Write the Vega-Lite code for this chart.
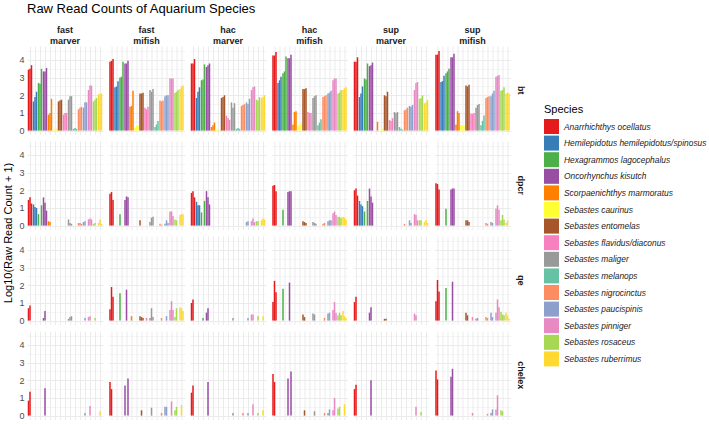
{
"$schema":"https://vega.github.io/schema/vega-lite/v6.json",
"padding":{"left":2,"top":3,"right":0,"bottom":0},
"title":{"text":"Raw Read Counts of Aquarium Species","anchor":"start","frame":"group","fontSize":13,"fontWeight":"normal","font":"Liberation Sans","color":"#000000","offset":10},
"datasets":{"species":[
{"s":1,"name":"Anarrhichthys ocellatus"},{"s":2,"name":"Hemilepidotus hemilepidotus/spinosus"},{"s":3,"name":"Hexagrammos lagocephalus"},{"s":4,"name":"Oncorhynchus kisutch"},{"s":5,"name":"Scorpaenichthys marmoratus"},{"s":6,"name":"Sebastes caurinus"},{"s":7,"name":"Sebastes entomelas"},{"s":8,"name":"Sebastes flavidus/diaconus"},{"s":9,"name":"Sebastes maliger"},{"s":10,"name":"Sebastes melanops"},{"s":11,"name":"Sebastes nigrocinctus"},{"s":12,"name":"Sebastes paucispinis"},{"s":13,"name":"Sebastes pinniger"},{"s":14,"name":"Sebastes rosaceus"},{"s":15,"name":"Sebastes ruberrimus"}]},
"data":{"values":[
{"e":"bt","c":"fast marver","s":1,"r":1,"v":3.45},{"e":"bt","c":"fast marver","s":1,"r":2,"v":3.5},{"e":"bt","c":"fast marver","s":1,"r":3,"v":3.7},
{"e":"bt","c":"fast marver","s":2,"r":1,"v":1.65},{"e":"bt","c":"fast marver","s":2,"r":2,"v":1.9},{"e":"bt","c":"fast marver","s":2,"r":3,"v":2.2},
{"e":"bt","c":"fast marver","s":3,"r":1,"v":2.7},{"e":"bt","c":"fast marver","s":3,"r":2,"v":2.65},{"e":"bt","c":"fast marver","s":3,"r":3,"v":3.5},
{"e":"bt","c":"fast marver","s":4,"r":1,"v":3.35},{"e":"bt","c":"fast marver","s":4,"r":2,"v":3.35},{"e":"bt","c":"fast marver","s":4,"r":3,"v":3.55},
{"e":"bt","c":"fast marver","s":5,"r":1,"v":0.9},{"e":"bt","c":"fast marver","s":5,"r":2,"v":1.0},{"e":"bt","c":"fast marver","s":5,"r":3,"v":1.8},
{"e":"bt","c":"fast marver","s":6,"r":1,"v":0.05},{"e":"bt","c":"fast marver","s":6,"r":2,"v":0.1},{"e":"bt","c":"fast marver","s":6,"r":3,"v":0.1},
{"e":"bt","c":"fast marver","s":7,"r":1,"v":1.65},{"e":"bt","c":"fast marver","s":7,"r":2,"v":1.7},{"e":"bt","c":"fast marver","s":7,"r":3,"v":1.75},
{"e":"bt","c":"fast marver","s":8,"r":1,"v":0.9},{"e":"bt","c":"fast marver","s":8,"r":2,"v":1.0},{"e":"bt","c":"fast marver","s":8,"r":3,"v":1.0},
{"e":"bt","c":"fast marver","s":9,"r":1,"v":1.75},{"e":"bt","c":"fast marver","s":9,"r":2,"v":1.95},{"e":"bt","c":"fast marver","s":9,"r":3,"v":1.95},
{"e":"bt","c":"fast marver","s":10,"r":1,"v":0.1},{"e":"bt","c":"fast marver","s":10,"r":2,"v":0.15},{"e":"bt","c":"fast marver","s":10,"r":3,"v":0.1},
{"e":"bt","c":"fast marver","s":11,"r":1,"v":1.2},{"e":"bt","c":"fast marver","s":11,"r":2,"v":1.3},{"e":"bt","c":"fast marver","s":11,"r":3,"v":1.35},
{"e":"bt","c":"fast marver","s":12,"r":1,"v":1.3},{"e":"bt","c":"fast marver","s":12,"r":2,"v":1.6},{"e":"bt","c":"fast marver","s":12,"r":3,"v":1.6},
{"e":"bt","c":"fast marver","s":13,"r":1,"v":2.3},{"e":"bt","c":"fast marver","s":13,"r":2,"v":2.55},{"e":"bt","c":"fast marver","s":13,"r":3,"v":2.55},
{"e":"bt","c":"fast marver","s":14,"r":1,"v":1.65},{"e":"bt","c":"fast marver","s":14,"r":2,"v":1.75},{"e":"bt","c":"fast marver","s":14,"r":3,"v":1.85},
{"e":"bt","c":"fast marver","s":15,"r":1,"v":2.05},{"e":"bt","c":"fast marver","s":15,"r":2,"v":2.1},{"e":"bt","c":"fast marver","s":15,"r":3,"v":2.1},
{"e":"bt","c":"fast mifish","s":1,"r":1,"v":3.9},{"e":"bt","c":"fast mifish","s":1,"r":2,"v":3.95},{"e":"bt","c":"fast mifish","s":1,"r":3,"v":4.05},
{"e":"bt","c":"fast mifish","s":2,"r":1,"v":2.45},{"e":"bt","c":"fast mifish","s":2,"r":2,"v":2.5},{"e":"bt","c":"fast mifish","s":2,"r":3,"v":2.8},
{"e":"bt","c":"fast mifish","s":3,"r":1,"v":3.0},{"e":"bt","c":"fast mifish","s":3,"r":2,"v":3.05},{"e":"bt","c":"fast mifish","s":3,"r":3,"v":3.9},
{"e":"bt","c":"fast mifish","s":4,"r":1,"v":3.8},{"e":"bt","c":"fast mifish","s":4,"r":2,"v":3.8},{"e":"bt","c":"fast mifish","s":4,"r":3,"v":3.95},
{"e":"bt","c":"fast mifish","s":5,"r":1,"v":1.35},{"e":"bt","c":"fast mifish","s":5,"r":2,"v":1.4},{"e":"bt","c":"fast mifish","s":5,"r":3,"v":2.25},
{"e":"bt","c":"fast mifish","s":6,"r":1,"v":0.15},{"e":"bt","c":"fast mifish","s":6,"r":2,"v":0.25},{"e":"bt","c":"fast mifish","s":6,"r":3,"v":0.3},
{"e":"bt","c":"fast mifish","s":7,"r":1,"v":2.1},{"e":"bt","c":"fast mifish","s":7,"r":2,"v":2.1},{"e":"bt","c":"fast mifish","s":7,"r":3,"v":2.15},
{"e":"bt","c":"fast mifish","s":8,"r":1,"v":1.3},{"e":"bt","c":"fast mifish","s":8,"r":2,"v":1.2},{"e":"bt","c":"fast mifish","s":8,"r":3,"v":1.35},
{"e":"bt","c":"fast mifish","s":9,"r":1,"v":2.3},{"e":"bt","c":"fast mifish","s":9,"r":2,"v":2.2},{"e":"bt","c":"fast mifish","s":9,"r":3,"v":2.35},
{"e":"bt","c":"fast mifish","s":10,"r":1,"v":0.2},{"e":"bt","c":"fast mifish","s":10,"r":2,"v":0.35},{"e":"bt","c":"fast mifish","s":10,"r":3,"v":0.55},
{"e":"bt","c":"fast mifish","s":11,"r":1,"v":1.7},{"e":"bt","c":"fast mifish","s":11,"r":2,"v":1.65},{"e":"bt","c":"fast mifish","s":11,"r":3,"v":1.7},
{"e":"bt","c":"fast mifish","s":12,"r":1,"v":1.95},{"e":"bt","c":"fast mifish","s":12,"r":2,"v":2.0},{"e":"bt","c":"fast mifish","s":12,"r":3,"v":2.0},
{"e":"bt","c":"fast mifish","s":13,"r":1,"v":2.95},{"e":"bt","c":"fast mifish","s":13,"r":2,"v":2.95},{"e":"bt","c":"fast mifish","s":13,"r":3,"v":2.95},
{"e":"bt","c":"fast mifish","s":14,"r":1,"v":2.15},{"e":"bt","c":"fast mifish","s":14,"r":2,"v":2.2},{"e":"bt","c":"fast mifish","s":14,"r":3,"v":2.3},
{"e":"bt","c":"fast mifish","s":15,"r":1,"v":2.35},{"e":"bt","c":"fast mifish","s":15,"r":2,"v":2.5},{"e":"bt","c":"fast mifish","s":15,"r":3,"v":2.55},
{"e":"bt","c":"hac marver","s":1,"r":1,"v":3.8},{"e":"bt","c":"hac marver","s":1,"r":2,"v":3.8},{"e":"bt","c":"hac marver","s":1,"r":3,"v":4.05},
{"e":"bt","c":"hac marver","s":2,"r":1,"v":1.85},{"e":"bt","c":"hac marver","s":2,"r":2,"v":2.2},{"e":"bt","c":"hac marver","s":2,"r":3,"v":2.45},
{"e":"bt","c":"hac marver","s":3,"r":1,"v":2.85},{"e":"bt","c":"hac marver","s":3,"r":2,"v":2.9},{"e":"bt","c":"hac marver","s":3,"r":3,"v":3.75},
{"e":"bt","c":"hac marver","s":4,"r":1,"v":3.6},{"e":"bt","c":"hac marver","s":4,"r":2,"v":3.7},{"e":"bt","c":"hac marver","s":4,"r":3,"v":3.8},
{"e":"bt","c":"hac marver","s":5,"r":1,"v":0.2},{"e":"bt","c":"hac marver","s":5,"r":2,"v":0.3},{"e":"bt","c":"hac marver","s":5,"r":3,"v":0.45},
{"e":"bt","c":"hac marver","s":6,"r":1,"v":0.05},{"e":"bt","c":"hac marver","s":6,"r":2,"v":0.1},{"e":"bt","c":"hac marver","s":6,"r":3,"v":0.05},
{"e":"bt","c":"hac marver","s":7,"r":1,"v":1.85},{"e":"bt","c":"hac marver","s":7,"r":2,"v":1.9},{"e":"bt","c":"hac marver","s":7,"r":3,"v":2.0},
{"e":"bt","c":"hac marver","s":8,"r":1,"v":0.85},{"e":"bt","c":"hac marver","s":8,"r":2,"v":0.7},{"e":"bt","c":"hac marver","s":8,"r":3,"v":0.6},
{"e":"bt","c":"hac marver","s":9,"r":1,"v":1.6},{"e":"bt","c":"hac marver","s":9,"r":2,"v":1.3},{"e":"bt","c":"hac marver","s":9,"r":3,"v":1.55},
{"e":"bt","c":"hac marver","s":10,"r":1,"v":0.1},{"e":"bt","c":"hac marver","s":10,"r":2,"v":0.15},{"e":"bt","c":"hac marver","s":10,"r":3,"v":0.1},
{"e":"bt","c":"hac marver","s":11,"r":1,"v":1.4},{"e":"bt","c":"hac marver","s":11,"r":2,"v":1.45},{"e":"bt","c":"hac marver","s":11,"r":3,"v":1.5},
{"e":"bt","c":"hac marver","s":12,"r":1,"v":1.6},{"e":"bt","c":"hac marver","s":12,"r":2,"v":1.5},{"e":"bt","c":"hac marver","s":12,"r":3,"v":1.8},
{"e":"bt","c":"hac marver","s":13,"r":1,"v":2.3},{"e":"bt","c":"hac marver","s":13,"r":2,"v":2.45},{"e":"bt","c":"hac marver","s":13,"r":3,"v":2.5},
{"e":"bt","c":"hac marver","s":14,"r":1,"v":1.75},{"e":"bt","c":"hac marver","s":14,"r":2,"v":1.7},{"e":"bt","c":"hac marver","s":14,"r":3,"v":1.9},
{"e":"bt","c":"hac marver","s":15,"r":1,"v":1.85},{"e":"bt","c":"hac marver","s":15,"r":2,"v":1.9},{"e":"bt","c":"hac marver","s":15,"r":3,"v":2.0},
{"e":"bt","c":"hac mifish","s":1,"r":1,"v":4.25},{"e":"bt","c":"hac mifish","s":1,"r":2,"v":4.25},{"e":"bt","c":"hac mifish","s":1,"r":3,"v":4.45},
{"e":"bt","c":"hac mifish","s":2,"r":1,"v":2.7},{"e":"bt","c":"hac mifish","s":2,"r":2,"v":2.85},{"e":"bt","c":"hac mifish","s":2,"r":3,"v":3.05},
{"e":"bt","c":"hac mifish","s":3,"r":1,"v":3.25},{"e":"bt","c":"hac mifish","s":3,"r":2,"v":3.35},{"e":"bt","c":"hac mifish","s":3,"r":3,"v":4.2},
{"e":"bt","c":"hac mifish","s":4,"r":1,"v":4.1},{"e":"bt","c":"hac mifish","s":4,"r":2,"v":4.1},{"e":"bt","c":"hac mifish","s":4,"r":3,"v":4.3},
{"e":"bt","c":"hac mifish","s":5,"r":1,"v":0.35},{"e":"bt","c":"hac mifish","s":5,"r":2,"v":1.05},{"e":"bt","c":"hac mifish","s":5,"r":3,"v":1.1},
{"e":"bt","c":"hac mifish","s":6,"r":1,"v":0.25},{"e":"bt","c":"hac mifish","s":6,"r":2,"v":0.35},{"e":"bt","c":"hac mifish","s":6,"r":3,"v":0.4},
{"e":"bt","c":"hac mifish","s":7,"r":1,"v":2.35},{"e":"bt","c":"hac mifish","s":7,"r":2,"v":2.35},{"e":"bt","c":"hac mifish","s":7,"r":3,"v":2.4},
{"e":"bt","c":"hac mifish","s":8,"r":1,"v":1.05},{"e":"bt","c":"hac mifish","s":8,"r":2,"v":1.0},{"e":"bt","c":"hac mifish","s":8,"r":3,"v":1.0},
{"e":"bt","c":"hac mifish","s":9,"r":1,"v":1.85},{"e":"bt","c":"hac mifish","s":9,"r":2,"v":1.95},{"e":"bt","c":"hac mifish","s":9,"r":3,"v":2.0},
{"e":"bt","c":"hac mifish","s":10,"r":1,"v":0.3},{"e":"bt","c":"hac mifish","s":10,"r":2,"v":0.45},{"e":"bt","c":"hac mifish","s":10,"r":3,"v":0.65},
{"e":"bt","c":"hac mifish","s":11,"r":1,"v":1.9},{"e":"bt","c":"hac mifish","s":11,"r":2,"v":1.95},{"e":"bt","c":"hac mifish","s":11,"r":3,"v":2.0},
{"e":"bt","c":"hac mifish","s":12,"r":1,"v":2.1},{"e":"bt","c":"hac mifish","s":12,"r":2,"v":2.15},{"e":"bt","c":"hac mifish","s":12,"r":3,"v":2.25},
{"e":"bt","c":"hac mifish","s":13,"r":1,"v":2.85},{"e":"bt","c":"hac mifish","s":13,"r":2,"v":2.95},{"e":"bt","c":"hac mifish","s":13,"r":3,"v":2.95},
{"e":"bt","c":"hac mifish","s":14,"r":1,"v":2.1},{"e":"bt","c":"hac mifish","s":14,"r":2,"v":2.15},{"e":"bt","c":"hac mifish","s":14,"r":3,"v":2.3},
{"e":"bt","c":"hac mifish","s":15,"r":1,"v":2.3},{"e":"bt","c":"hac mifish","s":15,"r":2,"v":2.4},{"e":"bt","c":"hac mifish","s":15,"r":3,"v":2.45},
{"e":"bt","c":"sup marver","s":1,"r":1,"v":3.9},{"e":"bt","c":"sup marver","s":1,"r":2,"v":3.9},{"e":"bt","c":"sup marver","s":1,"r":3,"v":4.15},
{"e":"bt","c":"sup marver","s":2,"r":1,"v":1.9},{"e":"bt","c":"sup marver","s":2,"r":2,"v":2.1},{"e":"bt","c":"sup marver","s":2,"r":3,"v":2.5},
{"e":"bt","c":"sup marver","s":3,"r":1,"v":2.95},{"e":"bt","c":"sup marver","s":3,"r":2,"v":2.9},{"e":"bt","c":"sup marver","s":3,"r":3,"v":3.8},
{"e":"bt","c":"sup marver","s":4,"r":1,"v":3.65},{"e":"bt","c":"sup marver","s":4,"r":2,"v":3.7},{"e":"bt","c":"sup marver","s":4,"r":3,"v":3.85},
{"e":"bt","c":"sup marver","s":5,"r":3,"v":0.5},
{"e":"bt","c":"sup marver","s":6,"r":2,"v":0.05},{"e":"bt","c":"sup marver","s":6,"r":3,"v":0.1},
{"e":"bt","c":"sup marver","s":7,"r":1,"v":2.0},{"e":"bt","c":"sup marver","s":7,"r":2,"v":1.95},{"e":"bt","c":"sup marver","s":7,"r":3,"v":2.2},
{"e":"bt","c":"sup marver","s":8,"r":1,"v":0.6},{"e":"bt","c":"sup marver","s":8,"r":2,"v":0.55},{"e":"bt","c":"sup marver","s":8,"r":3,"v":0.7},
{"e":"bt","c":"sup marver","s":9,"r":1,"v":1.05},{"e":"bt","c":"sup marver","s":9,"r":2,"v":1.0},{"e":"bt","c":"sup marver","s":9,"r":3,"v":1.05},
{"e":"bt","c":"sup marver","s":10,"r":1,"v":0.2},{"e":"bt","c":"sup marver","s":10,"r":2,"v":0.1},{"e":"bt","c":"sup marver","s":10,"r":3,"v":0.05},
{"e":"bt","c":"sup marver","s":11,"r":1,"v":1.15},{"e":"bt","c":"sup marver","s":11,"r":2,"v":1.2},{"e":"bt","c":"sup marver","s":11,"r":3,"v":1.3},
{"e":"bt","c":"sup marver","s":12,"r":1,"v":1.4},{"e":"bt","c":"sup marver","s":12,"r":2,"v":1.35},{"e":"bt","c":"sup marver","s":12,"r":3,"v":1.45},
{"e":"bt","c":"sup marver","s":13,"r":1,"v":2.3},{"e":"bt","c":"sup marver","s":13,"r":2,"v":2.7},{"e":"bt","c":"sup marver","s":13,"r":3,"v":2.75},
{"e":"bt","c":"sup marver","s":14,"r":1,"v":1.8},{"e":"bt","c":"sup marver","s":14,"r":2,"v":1.85},{"e":"bt","c":"sup marver","s":14,"r":3,"v":2.0},
{"e":"bt","c":"sup marver","s":15,"r":1,"v":1.55},{"e":"bt","c":"sup marver","s":15,"r":2,"v":1.6},{"e":"bt","c":"sup marver","s":15,"r":3,"v":1.75},
{"e":"bt","c":"sup mifish","s":1,"r":1,"v":4.3},{"e":"bt","c":"sup mifish","s":1,"r":2,"v":4.3},{"e":"bt","c":"sup mifish","s":1,"r":3,"v":4.5},
{"e":"bt","c":"sup mifish","s":2,"r":1,"v":2.75},{"e":"bt","c":"sup mifish","s":2,"r":2,"v":2.8},{"e":"bt","c":"sup mifish","s":2,"r":3,"v":3.1},
{"e":"bt","c":"sup mifish","s":3,"r":1,"v":3.25},{"e":"bt","c":"sup mifish","s":3,"r":2,"v":3.35},{"e":"bt","c":"sup mifish","s":3,"r":3,"v":3.5},
{"e":"bt","c":"sup mifish","s":4,"r":1,"v":4.15},{"e":"bt","c":"sup mifish","s":4,"r":2,"v":4.15},{"e":"bt","c":"sup mifish","s":4,"r":3,"v":4.35},
{"e":"bt","c":"sup mifish","s":5,"r":1,"v":0.35},{"e":"bt","c":"sup mifish","s":5,"r":2,"v":1.1},{"e":"bt","c":"sup mifish","s":5,"r":3,"v":1.0},
{"e":"bt","c":"sup mifish","s":6,"r":1,"v":0.3},{"e":"bt","c":"sup mifish","s":6,"r":2,"v":0.3},{"e":"bt","c":"sup mifish","s":6,"r":3,"v":0.3},
{"e":"bt","c":"sup mifish","s":7,"r":1,"v":2.55},{"e":"bt","c":"sup mifish","s":7,"r":2,"v":2.5},{"e":"bt","c":"sup mifish","s":7,"r":3,"v":2.6},
{"e":"bt","c":"sup mifish","s":8,"r":1,"v":0.95},{"e":"bt","c":"sup mifish","s":8,"r":2,"v":0.95},{"e":"bt","c":"sup mifish","s":8,"r":3,"v":1.0},
{"e":"bt","c":"sup mifish","s":9,"r":1,"v":1.3},{"e":"bt","c":"sup mifish","s":9,"r":2,"v":1.45},{"e":"bt","c":"sup mifish","s":9,"r":3,"v":1.5},
{"e":"bt","c":"sup mifish","s":10,"r":1,"v":0.3},{"e":"bt","c":"sup mifish","s":10,"r":2,"v":0.55},{"e":"bt","c":"sup mifish","s":10,"r":3,"v":0.85},
{"e":"bt","c":"sup mifish","s":11,"r":1,"v":1.85},{"e":"bt","c":"sup mifish","s":11,"r":2,"v":1.9},{"e":"bt","c":"sup mifish","s":11,"r":3,"v":1.95},
{"e":"bt","c":"sup mifish","s":12,"r":1,"v":1.95},{"e":"bt","c":"sup mifish","s":12,"r":2,"v":2.1},{"e":"bt","c":"sup mifish","s":12,"r":3,"v":2.25},
{"e":"bt","c":"sup mifish","s":13,"r":1,"v":3.05},{"e":"bt","c":"sup mifish","s":13,"r":2,"v":3.1},{"e":"bt","c":"sup mifish","s":13,"r":3,"v":3.15},
{"e":"bt","c":"sup mifish","s":14,"r":1,"v":2.25},{"e":"bt","c":"sup mifish","s":14,"r":2,"v":2.3},{"e":"bt","c":"sup mifish","s":14,"r":3,"v":2.45},
{"e":"bt","c":"sup mifish","s":15,"r":1,"v":2.1},{"e":"bt","c":"sup mifish","s":15,"r":2,"v":2.15},{"e":"bt","c":"sup mifish","s":15,"r":3,"v":2.1},
{"e":"dpcr","c":"fast marver","s":1,"r":1,"v":1.45},{"e":"dpcr","c":"fast marver","s":1,"r":2,"v":1.6},{"e":"dpcr","c":"fast marver","s":1,"r":3,"v":1.25},
{"e":"dpcr","c":"fast marver","s":2,"r":1,"v":1.2},{"e":"dpcr","c":"fast marver","s":2,"r":2,"v":1.05},{"e":"dpcr","c":"fast marver","s":2,"r":3,"v":1.0},
{"e":"dpcr","c":"fast marver","s":3,"r":1,"v":0.65},{"e":"dpcr","c":"fast marver","s":3,"r":3,"v":1.15},
{"e":"dpcr","c":"fast marver","s":4,"r":1,"v":1.6},{"e":"dpcr","c":"fast marver","s":4,"r":2,"v":1.3},{"e":"dpcr","c":"fast marver","s":4,"r":3,"v":0.85},
{"e":"dpcr","c":"fast marver","s":5,"r":1,"v":0.25},{"e":"dpcr","c":"fast marver","s":5,"r":2,"v":0.2},
{"e":"dpcr","c":"fast marver","s":9,"r":1,"v":0.35},{"e":"dpcr","c":"fast marver","s":9,"r":2,"v":0.15},{"e":"dpcr","c":"fast marver","s":9,"r":3,"v":0.1},
{"e":"dpcr","c":"fast marver","s":11,"r":1,"v":0.15},{"e":"dpcr","c":"fast marver","s":11,"r":2,"v":0.15},{"e":"dpcr","c":"fast marver","s":11,"r":3,"v":0.1},
{"e":"dpcr","c":"fast marver","s":12,"r":1,"v":0.2},{"e":"dpcr","c":"fast marver","s":12,"r":2,"v":0.25},
{"e":"dpcr","c":"fast marver","s":13,"r":1,"v":0.35},{"e":"dpcr","c":"fast marver","s":13,"r":2,"v":0.4},{"e":"dpcr","c":"fast marver","s":13,"r":3,"v":0.35},
{"e":"dpcr","c":"fast marver","s":14,"r":1,"v":0.1},{"e":"dpcr","c":"fast marver","s":14,"r":2,"v":0.15},
{"e":"dpcr","c":"fast marver","s":15,"r":1,"v":0.15},{"e":"dpcr","c":"fast marver","s":15,"r":2,"v":0.35},{"e":"dpcr","c":"fast marver","s":15,"r":3,"v":0.1},
{"e":"dpcr","c":"fast mifish","s":1,"r":1,"v":1.8},{"e":"dpcr","c":"fast mifish","s":1,"r":2,"v":1.9},{"e":"dpcr","c":"fast mifish","s":1,"r":3,"v":1.45},
{"e":"dpcr","c":"fast mifish","s":3,"r":1,"v":0.65},
{"e":"dpcr","c":"fast mifish","s":4,"r":1,"v":1.45},{"e":"dpcr","c":"fast mifish","s":4,"r":2,"v":1.65},{"e":"dpcr","c":"fast mifish","s":4,"r":3,"v":1.6},
{"e":"dpcr","c":"fast mifish","s":7,"r":1,"v":0.3},
{"e":"dpcr","c":"fast mifish","s":9,"r":1,"v":0.2},{"e":"dpcr","c":"fast mifish","s":9,"r":2,"v":0.45},{"e":"dpcr","c":"fast mifish","s":9,"r":3,"v":0.5},
{"e":"dpcr","c":"fast mifish","s":11,"r":1,"v":0.1},{"e":"dpcr","c":"fast mifish","s":11,"r":2,"v":0.05},
{"e":"dpcr","c":"fast mifish","s":12,"r":1,"v":0.1},{"e":"dpcr","c":"fast mifish","s":12,"r":2,"v":0.3},{"e":"dpcr","c":"fast mifish","s":12,"r":3,"v":0.15},
{"e":"dpcr","c":"fast mifish","s":13,"r":1,"v":0.8},{"e":"dpcr","c":"fast mifish","s":13,"r":2,"v":0.8},{"e":"dpcr","c":"fast mifish","s":13,"r":3,"v":0.55},
{"e":"dpcr","c":"fast mifish","s":14,"r":1,"v":0.35},{"e":"dpcr","c":"fast mifish","s":14,"r":2,"v":0.3},
{"e":"dpcr","c":"fast mifish","s":15,"r":1,"v":0.6},{"e":"dpcr","c":"fast mifish","s":15,"r":2,"v":0.65},{"e":"dpcr","c":"fast mifish","s":15,"r":3,"v":0.65},
{"e":"dpcr","c":"hac marver","s":1,"r":1,"v":1.85},{"e":"dpcr","c":"hac marver","s":1,"r":2,"v":1.95},{"e":"dpcr","c":"hac marver","s":1,"r":3,"v":1.6},
{"e":"dpcr","c":"hac marver","s":2,"r":1,"v":1.35},{"e":"dpcr","c":"hac marver","s":2,"r":2,"v":1.15},{"e":"dpcr","c":"hac marver","s":2,"r":3,"v":1.15},
{"e":"dpcr","c":"hac marver","s":3,"r":1,"v":0.75},{"e":"dpcr","c":"hac marver","s":3,"r":3,"v":1.4},
{"e":"dpcr","c":"hac marver","s":4,"r":1,"v":1.95},{"e":"dpcr","c":"hac marver","s":4,"r":2,"v":1.6},{"e":"dpcr","c":"hac marver","s":4,"r":3,"v":1.2},
{"e":"dpcr","c":"hac marver","s":12,"r":1,"v":0.2},{"e":"dpcr","c":"hac marver","s":12,"r":2,"v":0.25},
{"e":"dpcr","c":"hac marver","s":13,"r":1,"v":0.25},{"e":"dpcr","c":"hac marver","s":13,"r":2,"v":0.4},{"e":"dpcr","c":"hac marver","s":13,"r":3,"v":0.2},
{"e":"dpcr","c":"hac marver","s":14,"r":1,"v":0.25},{"e":"dpcr","c":"hac marver","s":14,"r":2,"v":0.25},
{"e":"dpcr","c":"hac marver","s":15,"r":1,"v":0.3},{"e":"dpcr","c":"hac marver","s":15,"r":2,"v":0.4},{"e":"dpcr","c":"hac marver","s":15,"r":3,"v":0.35},
{"e":"dpcr","c":"hac mifish","s":1,"r":1,"v":2.25},{"e":"dpcr","c":"hac mifish","s":1,"r":2,"v":2.3},{"e":"dpcr","c":"hac mifish","s":1,"r":3,"v":1.95},
{"e":"dpcr","c":"hac mifish","s":3,"r":1,"v":0.9},
{"e":"dpcr","c":"hac mifish","s":4,"r":1,"v":1.9},{"e":"dpcr","c":"hac mifish","s":4,"r":2,"v":1.95},{"e":"dpcr","c":"hac mifish","s":4,"r":3,"v":1.95},
{"e":"dpcr","c":"hac mifish","s":7,"r":1,"v":0.25},{"e":"dpcr","c":"hac mifish","s":7,"r":2,"v":0.2},{"e":"dpcr","c":"hac mifish","s":7,"r":3,"v":0.15},
{"e":"dpcr","c":"hac mifish","s":9,"r":1,"v":0.2},{"e":"dpcr","c":"hac mifish","s":9,"r":2,"v":0.15},{"e":"dpcr","c":"hac mifish","s":9,"r":3,"v":0.1},
{"e":"dpcr","c":"hac mifish","s":11,"r":1,"v":0.1},{"e":"dpcr","c":"hac mifish","s":11,"r":2,"v":0.15},
{"e":"dpcr","c":"hac mifish","s":12,"r":1,"v":0.25},{"e":"dpcr","c":"hac mifish","s":12,"r":2,"v":0.3},{"e":"dpcr","c":"hac mifish","s":12,"r":3,"v":0.3},
{"e":"dpcr","c":"hac mifish","s":13,"r":1,"v":0.7},{"e":"dpcr","c":"hac mifish","s":13,"r":2,"v":0.8},{"e":"dpcr","c":"hac mifish","s":13,"r":3,"v":0.6},
{"e":"dpcr","c":"hac mifish","s":14,"r":1,"v":0.5},{"e":"dpcr","c":"hac mifish","s":14,"r":2,"v":0.5},{"e":"dpcr","c":"hac mifish","s":14,"r":3,"v":0.45},
{"e":"dpcr","c":"hac mifish","s":15,"r":1,"v":0.5},{"e":"dpcr","c":"hac mifish","s":15,"r":2,"v":0.45},{"e":"dpcr","c":"hac mifish","s":15,"r":3,"v":0.35},
{"e":"dpcr","c":"sup marver","s":1,"r":1,"v":2.0},{"e":"dpcr","c":"sup marver","s":1,"r":2,"v":2.1},{"e":"dpcr","c":"sup marver","s":1,"r":3,"v":1.7},
{"e":"dpcr","c":"sup marver","s":2,"r":1,"v":1.4},{"e":"dpcr","c":"sup marver","s":2,"r":2,"v":1.2},{"e":"dpcr","c":"sup marver","s":2,"r":3,"v":1.1},
{"e":"dpcr","c":"sup marver","s":3,"r":1,"v":0.8},{"e":"dpcr","c":"sup marver","s":3,"r":3,"v":1.4},
{"e":"dpcr","c":"sup marver","s":4,"r":1,"v":2.1},{"e":"dpcr","c":"sup marver","s":4,"r":2,"v":1.65},{"e":"dpcr","c":"sup marver","s":4,"r":3,"v":1.3},
{"e":"dpcr","c":"sup marver","s":11,"r":1,"v":0.1},
{"e":"dpcr","c":"sup marver","s":12,"r":1,"v":0.3},{"e":"dpcr","c":"sup marver","s":12,"r":2,"v":0.15},
{"e":"dpcr","c":"sup marver","s":13,"r":1,"v":0.65},{"e":"dpcr","c":"sup marver","s":13,"r":2,"v":0.6},{"e":"dpcr","c":"sup marver","s":13,"r":3,"v":0.3},
{"e":"dpcr","c":"sup marver","s":14,"r":1,"v":0.3},{"e":"dpcr","c":"sup marver","s":14,"r":2,"v":0.3},
{"e":"dpcr","c":"sup marver","s":15,"r":1,"v":0.2},{"e":"dpcr","c":"sup marver","s":15,"r":2,"v":0.3},{"e":"dpcr","c":"sup marver","s":15,"r":3,"v":0.15},
{"e":"dpcr","c":"sup mifish","s":1,"r":1,"v":2.4},{"e":"dpcr","c":"sup mifish","s":1,"r":2,"v":2.35},{"e":"dpcr","c":"sup mifish","s":1,"r":3,"v":2.05},
{"e":"dpcr","c":"sup mifish","s":3,"r":1,"v":0.95},
{"e":"dpcr","c":"sup mifish","s":4,"r":1,"v":2.05},{"e":"dpcr","c":"sup mifish","s":4,"r":2,"v":2.1},{"e":"dpcr","c":"sup mifish","s":4,"r":3,"v":2.1},
{"e":"dpcr","c":"sup mifish","s":7,"r":1,"v":0.3},{"e":"dpcr","c":"sup mifish","s":7,"r":2,"v":0.3},{"e":"dpcr","c":"sup mifish","s":7,"r":3,"v":0.2},
{"e":"dpcr","c":"sup mifish","s":11,"r":1,"v":0.15},{"e":"dpcr","c":"sup mifish","s":11,"r":2,"v":0.1},
{"e":"dpcr","c":"sup mifish","s":12,"r":1,"v":0.2},{"e":"dpcr","c":"sup mifish","s":12,"r":2,"v":0.15},
{"e":"dpcr","c":"sup mifish","s":13,"r":1,"v":0.95},{"e":"dpcr","c":"sup mifish","s":13,"r":2,"v":1.15},{"e":"dpcr","c":"sup mifish","s":13,"r":3,"v":0.9},
{"e":"dpcr","c":"sup mifish","s":14,"r":1,"v":0.3},{"e":"dpcr","c":"sup mifish","s":14,"r":2,"v":0.6},{"e":"dpcr","c":"sup mifish","s":14,"r":3,"v":0.35},
{"e":"dpcr","c":"sup mifish","s":15,"r":1,"v":0.15},{"e":"dpcr","c":"sup mifish","s":15,"r":2,"v":0.3},
{"e":"qe","c":"fast marver","s":1,"r":1,"v":0.7},{"e":"qe","c":"fast marver","s":1,"r":2,"v":0.85},
{"e":"qe","c":"fast marver","s":4,"r":1,"v":0.15},{"e":"qe","c":"fast marver","s":4,"r":2,"v":0.55},
{"e":"qe","c":"fast marver","s":9,"r":1,"v":0.1},{"e":"qe","c":"fast marver","s":9,"r":2,"v":0.2},{"e":"qe","c":"fast marver","s":9,"r":3,"v":0.25},
{"e":"qe","c":"fast marver","s":12,"r":2,"v":0.15},
{"e":"qe","c":"fast marver","s":13,"r":1,"v":0.2},{"e":"qe","c":"fast marver","s":13,"r":2,"v":0.25},
{"e":"qe","c":"fast marver","s":14,"r":2,"v":0.15},
{"e":"qe","c":"fast mifish","s":1,"r":1,"v":0.65},{"e":"qe","c":"fast mifish","s":1,"r":2,"v":1.9},{"e":"qe","c":"fast mifish","s":1,"r":3,"v":1.35},
{"e":"qe","c":"fast mifish","s":3,"r":1,"v":1.55},
{"e":"qe","c":"fast mifish","s":4,"r":2,"v":1.75},
{"e":"qe","c":"fast mifish","s":5,"r":2,"v":0.25},
{"e":"qe","c":"fast mifish","s":7,"r":1,"v":0.25},{"e":"qe","c":"fast mifish","s":7,"r":2,"v":0.2},{"e":"qe","c":"fast mifish","s":7,"r":3,"v":0.15},
{"e":"qe","c":"fast mifish","s":8,"r":2,"v":0.15},
{"e":"qe","c":"fast mifish","s":9,"r":1,"v":0.15},{"e":"qe","c":"fast mifish","s":9,"r":2,"v":0.7},{"e":"qe","c":"fast mifish","s":9,"r":3,"v":0.2},
{"e":"qe","c":"fast mifish","s":11,"r":2,"v":0.15},
{"e":"qe","c":"fast mifish","s":12,"r":2,"v":0.25},
{"e":"qe","c":"fast mifish","s":13,"r":1,"v":0.6},{"e":"qe","c":"fast mifish","s":13,"r":2,"v":1.1},{"e":"qe","c":"fast mifish","s":13,"r":3,"v":0.6},
{"e":"qe","c":"fast mifish","s":14,"r":1,"v":0.2},{"e":"qe","c":"fast mifish","s":14,"r":2,"v":0.7},
{"e":"qe","c":"fast mifish","s":15,"r":1,"v":0.75},{"e":"qe","c":"fast mifish","s":15,"r":2,"v":0.7},{"e":"qe","c":"fast mifish","s":15,"r":3,"v":0.55},
{"e":"qe","c":"hac marver","s":1,"r":1,"v":1.0},{"e":"qe","c":"hac marver","s":1,"r":2,"v":1.2},
{"e":"qe","c":"hac marver","s":3,"r":2,"v":0.15},
{"e":"qe","c":"hac marver","s":4,"r":1,"v":0.45},{"e":"qe","c":"hac marver","s":4,"r":2,"v":0.7},
{"e":"qe","c":"hac marver","s":9,"r":2,"v":0.15},
{"e":"qe","c":"hac marver","s":12,"r":2,"v":0.15},
{"e":"qe","c":"hac marver","s":13,"r":1,"v":0.35},{"e":"qe","c":"hac marver","s":13,"r":2,"v":0.35},
{"e":"qe","c":"hac marver","s":14,"r":2,"v":0.25},
{"e":"qe","c":"hac marver","s":15,"r":2,"v":0.25},
{"e":"qe","c":"hac mifish","s":1,"r":1,"v":1.05},{"e":"qe","c":"hac mifish","s":1,"r":2,"v":2.25},{"e":"qe","c":"hac mifish","s":1,"r":3,"v":1.6},
{"e":"qe","c":"hac mifish","s":3,"r":1,"v":1.8},
{"e":"qe","c":"hac mifish","s":4,"r":2,"v":2.15},
{"e":"qe","c":"hac mifish","s":7,"r":1,"v":0.35},{"e":"qe","c":"hac mifish","s":7,"r":2,"v":0.2},
{"e":"qe","c":"hac mifish","s":9,"r":1,"v":0.4},{"e":"qe","c":"hac mifish","s":9,"r":2,"v":0.35},
{"e":"qe","c":"hac mifish","s":11,"r":2,"v":0.15},
{"e":"qe","c":"hac mifish","s":12,"r":1,"v":0.4},{"e":"qe","c":"hac mifish","s":12,"r":2,"v":0.45},
{"e":"qe","c":"hac mifish","s":13,"r":1,"v":0.6},{"e":"qe","c":"hac mifish","s":13,"r":2,"v":1.05},{"e":"qe","c":"hac mifish","s":13,"r":3,"v":0.45},
{"e":"qe","c":"hac mifish","s":14,"r":1,"v":0.3},{"e":"qe","c":"hac mifish","s":14,"r":2,"v":0.45},{"e":"qe","c":"hac mifish","s":14,"r":3,"v":0.3},
{"e":"qe","c":"hac mifish","s":15,"r":1,"v":0.55},{"e":"qe","c":"hac mifish","s":15,"r":2,"v":0.25},{"e":"qe","c":"hac mifish","s":15,"r":3,"v":0.15},
{"e":"qe","c":"sup marver","s":1,"r":1,"v":1.05},{"e":"qe","c":"sup marver","s":1,"r":2,"v":1.35},
{"e":"qe","c":"sup marver","s":4,"r":1,"v":0.45},{"e":"qe","c":"sup marver","s":4,"r":2,"v":0.75},
{"e":"qe","c":"sup marver","s":7,"r":1,"v":0.1},{"e":"qe","c":"sup marver","s":7,"r":2,"v":0.1},
{"e":"qe","c":"sup marver","s":13,"r":1,"v":0.4},{"e":"qe","c":"sup marver","s":13,"r":2,"v":0.3},
{"e":"qe","c":"sup mifish","s":1,"r":1,"v":1.1},{"e":"qe","c":"sup mifish","s":1,"r":2,"v":2.3},{"e":"qe","c":"sup mifish","s":1,"r":3,"v":1.65},
{"e":"qe","c":"sup mifish","s":3,"r":1,"v":1.85},
{"e":"qe","c":"sup mifish","s":4,"r":2,"v":2.2},
{"e":"qe","c":"sup mifish","s":7,"r":1,"v":0.45},{"e":"qe","c":"sup mifish","s":7,"r":2,"v":0.3},
{"e":"qe","c":"sup mifish","s":8,"r":2,"v":0.2},
{"e":"qe","c":"sup mifish","s":9,"r":1,"v":0.1},{"e":"qe","c":"sup mifish","s":9,"r":2,"v":0.15},
{"e":"qe","c":"sup mifish","s":11,"r":1,"v":0.2},{"e":"qe","c":"sup mifish","s":11,"r":2,"v":0.15},
{"e":"qe","c":"sup mifish","s":12,"r":1,"v":0.45},{"e":"qe","c":"sup mifish","s":12,"r":2,"v":0.2},
{"e":"qe","c":"sup mifish","s":13,"r":1,"v":0.45},{"e":"qe","c":"sup mifish","s":13,"r":2,"v":1.2},{"e":"qe","c":"sup mifish","s":13,"r":3,"v":0.75},
{"e":"qe","c":"sup mifish","s":14,"r":1,"v":0.5},{"e":"qe","c":"sup mifish","s":14,"r":2,"v":0.35},{"e":"qe","c":"sup mifish","s":14,"r":3,"v":0.3},
{"e":"qe","c":"sup mifish","s":15,"r":1,"v":0.45},{"e":"qe","c":"sup mifish","s":15,"r":2,"v":0.3},{"e":"qe","c":"sup mifish","s":15,"r":3,"v":0.1},
{"e":"chelex","c":"fast marver","s":1,"r":1,"v":0.85},{"e":"chelex","c":"fast marver","s":1,"r":2,"v":1.35},
{"e":"chelex","c":"fast marver","s":4,"r":2,"v":1.55},
{"e":"chelex","c":"fast marver","s":12,"r":2,"v":0.15},
{"e":"chelex","c":"fast marver","s":13,"r":2,"v":0.55},
{"e":"chelex","c":"fast marver","s":15,"r":2,"v":0.25},
{"e":"chelex","c":"fast mifish","s":1,"r":1,"v":1.9},{"e":"chelex","c":"fast mifish","s":1,"r":2,"v":1.5},
{"e":"chelex","c":"fast mifish","s":4,"r":1,"v":1.7},{"e":"chelex","c":"fast mifish","s":4,"r":3,"v":2.1},
{"e":"chelex","c":"fast mifish","s":7,"r":2,"v":0.3},
{"e":"chelex","c":"fast mifish","s":9,"r":2,"v":0.45},
{"e":"chelex","c":"fast mifish","s":11,"r":2,"v":0.15},
{"e":"chelex","c":"fast mifish","s":12,"r":1,"v":0.5},{"e":"chelex","c":"fast mifish","s":12,"r":2,"v":0.5},
{"e":"chelex","c":"fast mifish","s":13,"r":2,"v":0.8},
{"e":"chelex","c":"fast mifish","s":14,"r":1,"v":0.3},{"e":"chelex","c":"fast mifish","s":14,"r":2,"v":0.5},
{"e":"chelex","c":"fast mifish","s":15,"r":2,"v":0.6},
{"e":"chelex","c":"hac marver","s":1,"r":1,"v":1.3},{"e":"chelex","c":"hac marver","s":1,"r":2,"v":1.7},
{"e":"chelex","c":"hac marver","s":4,"r":2,"v":1.9},
{"e":"chelex","c":"hac marver","s":9,"r":2,"v":0.15},
{"e":"chelex","c":"hac marver","s":11,"r":2,"v":0.15},
{"e":"chelex","c":"hac marver","s":12,"r":2,"v":0.15},
{"e":"chelex","c":"hac marver","s":13,"r":2,"v":0.65},
{"e":"chelex","c":"hac marver","s":14,"r":2,"v":0.15},
{"e":"chelex","c":"hac marver","s":15,"r":2,"v":0.3},
{"e":"chelex","c":"hac mifish","s":1,"r":1,"v":2.35},{"e":"chelex","c":"hac mifish","s":1,"r":2,"v":1.9},
{"e":"chelex","c":"hac mifish","s":4,"r":1,"v":2.1},{"e":"chelex","c":"hac mifish","s":4,"r":3,"v":2.5},
{"e":"chelex","c":"hac mifish","s":7,"r":2,"v":0.3},
{"e":"chelex","c":"hac mifish","s":9,"r":2,"v":0.25},
{"e":"chelex","c":"hac mifish","s":11,"r":2,"v":0.15},
{"e":"chelex","c":"hac mifish","s":12,"r":1,"v":0.15},{"e":"chelex","c":"hac mifish","s":12,"r":2,"v":0.35},
{"e":"chelex","c":"hac mifish","s":13,"r":1,"v":0.3},{"e":"chelex","c":"hac mifish","s":13,"r":2,"v":1.0},
{"e":"chelex","c":"hac mifish","s":14,"r":1,"v":0.4},{"e":"chelex","c":"hac mifish","s":14,"r":2,"v":0.5},
{"e":"chelex","c":"hac mifish","s":15,"r":2,"v":0.65},
{"e":"chelex","c":"sup marver","s":1,"r":1,"v":1.5},{"e":"chelex","c":"sup marver","s":1,"r":2,"v":1.75},
{"e":"chelex","c":"sup marver","s":4,"r":2,"v":2.0},
{"e":"chelex","c":"sup marver","s":13,"r":2,"v":0.5},
{"e":"chelex","c":"sup marver","s":14,"r":2,"v":0.2},
{"e":"chelex","c":"sup mifish","s":1,"r":1,"v":2.55},{"e":"chelex","c":"sup mifish","s":1,"r":2,"v":2.05},
{"e":"chelex","c":"sup mifish","s":4,"r":1,"v":2.2},{"e":"chelex","c":"sup mifish","s":4,"r":2,"v":2.65},
{"e":"chelex","c":"sup mifish","s":8,"r":2,"v":0.15},
{"e":"chelex","c":"sup mifish","s":11,"r":2,"v":0.1},
{"e":"chelex","c":"sup mifish","s":12,"r":1,"v":0.15},{"e":"chelex","c":"sup mifish","s":12,"r":2,"v":0.35},
{"e":"chelex","c":"sup mifish","s":13,"r":1,"v":0.35},{"e":"chelex","c":"sup mifish","s":13,"r":2,"v":1.15},
{"e":"chelex","c":"sup mifish","s":14,"r":1,"v":0.3},{"e":"chelex","c":"sup mifish","s":14,"r":2,"v":0.25}
]},
"transform":[{"lookup":"s","from":{"data":{"name":"species"},"key":"s","fields":["name"]}}],
"facet":{
 "row":{"field":"e","type":"nominal","sort":["bt","dpcr","qe","chelex"],
  "header":{"title":"Log10(Raw Read Count + 1)","titleOrient":"left","titleFontSize":11,"titleFontWeight":"normal","titleColor":"#000000","titleFont":"Liberation Sans","titlePadding":-6,
   "labelOrient":"right","labelAngle":90,"labelFontWeight":"bold","labelFontSize":9,"labelColor":"#1a1a1a","labelFont":"Liberation Sans","labelPadding":5}},
 "column":{"field":"c","type":"nominal","sort":["fast marver","fast mifish","hac marver","hac mifish","sup marver","sup mifish"],
  "header":{"title":null,"labelFontWeight":"bold","labelFontSize":9,"labelColor":"#1a1a1a","labelFont":"Liberation Sans","labelExpr":"split(datum.value,' ')","labelLineHeight":11,"labelPadding":0}}
},
"spacing":{"row":6,"column":5.5},
"spec":{
 "width":76,"height":88.5,
 "mark":{"type":"bar"},
 "encoding":{
  "x":{"field":"s","type":"ordinal","scale":{"domain":[1,2,3,4,5,6,7,8,9,10,11,12,13,14,15],"paddingInner":0.1,"paddingOuter":0.15},
   "axis":{"labels":false,"ticks":false,"domain":false,"title":null,"grid":true,"gridColor":"#ebebeb","gridWidth":1,"bandPosition":0.5,"minExtent":0}},
  "xOffset":{"field":"r","type":"ordinal","scale":{"domain":[1,2,3],"paddingInner":0,"paddingOuter":0}},
  "y":{"field":"v","type":"quantitative","scale":{"domain":[-0.22,4.79],"nice":false,"zero":false},
   "axis":{"values":[0,0.5,1,1.5,2,2.5,3,3.5,4,4.5],"labelExpr":"datum.value % 1 == 0 ? '' + datum.value : ''","ticks":false,"domain":false,"title":null,"minExtent":0,
    "gridColor":"#ebebeb","gridWidth":{"condition":{"test":"datum.value % 1 != 0","value":0.5},"value":1},
    "labelColor":"#4d4d4d","labelFontSize":9,"labelFont":"Liberation Sans","labelPadding":3}},
  "color":{"field":"name","type":"nominal","title":"Species",
   "scale":{"domain":["Anarrhichthys ocellatus","Hemilepidotus hemilepidotus/spinosus","Hexagrammos lagocephalus","Oncorhynchus kisutch","Scorpaenichthys marmoratus","Sebastes caurinus","Sebastes entomelas","Sebastes flavidus/diaconus","Sebastes maliger","Sebastes melanops","Sebastes nigrocinctus","Sebastes paucispinis","Sebastes pinniger","Sebastes rosaceus","Sebastes ruberrimus"],
    "range":["#E41A1C","#377EB8","#4DAF4A","#984EA3","#FF7F00","#FFFF33","#A65628","#F781BF","#999999","#66C2A5","#FC8D62","#8DA0CB","#E78AC3","#A6D854","#FFD92F"]},
   "legend":{"orient":"none","legendX":517,"legendY":58,"symbolType":"square","symbolSize":225,"symbolStrokeWidth":0,"symbolOpacity":1,
    "labelFontStyle":"italic","labelFontSize":8.4,"labelColor":"#1a1a1a","labelFont":"Liberation Sans","labelOffset":5,"rowPadding":1.6,
    "titleFontSize":11,"titleFontWeight":"normal","titleColor":"#000000","titleFont":"Liberation Sans","titlePadding":4,"labelLimit":300}}
 }
},
"config":{"view":{"stroke":null},"font":"Liberation Sans"}
}
